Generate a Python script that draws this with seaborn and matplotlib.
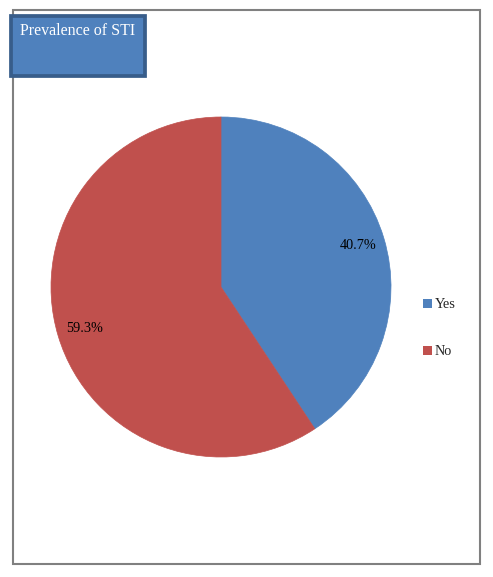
import seaborn as sns
import matplotlib.pyplot as plt
from matplotlib.patches import Rectangle, Patch

categories = ['Yes', 'No']
values = [40.7, 59.3]
title = 'Prevalence of STI'

sns.set_style('white')
plt.rcParams['font.family'] = ['Liberation Serif', 'DejaVu Serif']
colors = ['#4F81BD', '#C0504D']

W, H = 493, 577
fig = plt.figure(figsize=(W / 100, H / 100), dpi=100)

# outer chart border
fig.patches.append(Rectangle((12.5 / W, 1 - 564 / H), 467 / W, 554.5 / H,
                             transform=fig.transFigure, fill=False,
                             edgecolor='#808080', linewidth=1.5))

# pie axes, radius ~170px
ax = fig.add_axes([51 / W, 1 - 457 / H, 340 / W, 340 / H])
wedges, _, _ = ax.pie(values, colors=colors, startangle=90, counterclock=False,
                      autopct='%.1f%%', pctdistance=0.84, radius=1,
                      textprops={'fontsize': 10.3, 'color': 'black'})
# edge in the wedge's own colour so no seam shows
for w, c in zip(wedges, colors):
    w.set_edgecolor(c)
    w.set_linewidth(0.5)
ax.set_xlim(-1, 1)
ax.set_ylim(-1, 1)
ax.set_aspect('equal')
ax.axis('off')

# title box
fig.patches.append(Rectangle((11 / W, 1 - 76 / H), 134 / W, 60 / H,
                             transform=fig.transFigure, facecolor='#4F81BD',
                             edgecolor='#385D8A', linewidth=2.7, zorder=5))
fig.text(20 / W, 1 - 31 / H, title, color='white', fontsize=11.5,
         va='center', ha='left', zorder=6)

# legend
handles = [Patch(facecolor=c, edgecolor='none') for c in colors]
fig.legend(handles, categories, loc='upper left',
           bbox_to_anchor=(416 / W, 1 - 291 / H), frameon=False,
           fontsize=10.3, handlelength=0.6, handleheight=0.6,
           handletextpad=0.2, labelspacing=2.4, borderpad=0)

plt.savefig('out.png', dpi=100)
